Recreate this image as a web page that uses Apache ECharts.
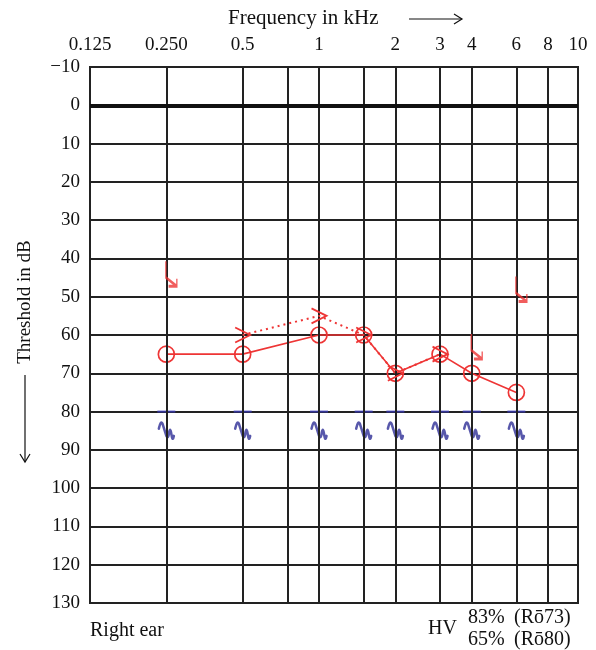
<!DOCTYPE html>
<html>
<head>
<meta charset="utf-8">
<script src="https://cdn.jsdelivr.net/npm/echarts@6/dist/echarts.min.js"></script>
<style>
  html, body { margin: 0; padding: 0; background: #fff; }
  #chart { width: 596px; height: 650px; }
</style>
</head>
<body>
<div id="chart"></div>
<script>
const freqTicks = [0.125, 0.25, 0.5, 1, 2, 3, 4, 6, 8, 10.5];
const freqTickLabels = ["0.125", "0.250", "0.5", "1", "2", "3", "4", "6", "8", "10"];
const gridFreqs = [0.25, 0.5, 0.75, 1, 1.5, 2, 3, 4, 6, 8];

// air conduction, right ear
const airFreq = [0.25, 0.5, 1, 1.5, 2, 3, 4, 6];
const airDb = [65, 65, 60, 60, 70, 65, 70, 75];

// bone conduction
const boneFreq = [0.5, 1, 1.5, 2, 3];
const boneDb = [60, 55, 60, 70, 65];

// discomfort level marks
const uclFreq = [0.25, 4, 6];
const uclDb = [44, 63, 48];

// vibration / masking marks
const vibFreq = [0.25, 0.5, 1, 1.5, 2, 3, 4, 6];
const vibDashDb = 80;
const vibWaveDb = 85;

const red = "#ee3535";
const blue = "#2e2e96";
const font = "Liberation Serif";

const chart = echarts.init(document.getElementById("chart"));

const pairs = (xs, ys) => xs.map((x, i) => [x, ys[i]]);

const option = {
  animation: false,
  grid: {
    left: 90, right: 18, top: 67, bottom: 47,
    show: true, borderColor: "#222", borderWidth: 2
  },
  xAxis: {
    type: "log",
    logBase: 2,
    min: 0.125,
    max: 10.5,
    position: "top",
    axisLine: { show: false },
    axisTick: { show: false },
    splitLine: { show: false },
    axisLabel: {
      customValues: freqTicks,
      fontFamily: font,
      fontSize: 19,
      color: "#111",
      margin: 12,
      formatter: (v) => {
        const i = freqTicks.findIndex((t) => Math.abs(t - v) < 1e-6);
        return i >= 0 ? freqTickLabels[i] : "";
      }
    }
  },
  yAxis: {
    type: "value",
    inverse: true,
    min: -10,
    max: 130,
    interval: 10,
    axisLine: { show: false },
    axisTick: { show: false },
    splitLine: { lineStyle: { color: "#222", width: 2 } },
    axisLabel: {
      fontFamily: font,
      fontSize: 19,
      color: "#111",
      margin: 10,
      formatter: (v) => (v < 0 ? "\u2212" + Math.abs(v) : String(v))
    }
  },
  graphic: [
    { type: "text", left: 228, top: 8, style: { text: "Frequency in kHz", font: "21px " + font, fill: "#111" } },
    { type: "line", shape: { x1: 409, y1: 19, x2: 462, y2: 19 }, style: { stroke: "#111", lineWidth: 1.2 } },
    { type: "polyline", shape: { points: [[454, 14], [462, 19], [454, 24]] }, style: { stroke: "#111", lineWidth: 1.2, fill: null } },
    { type: "text", x: 25, y: 302, rotation: Math.PI / 2,
      style: { text: "Threshold in dB", font: "19px " + font, fill: "#111", align: "center", verticalAlign: "middle" } },
    { type: "line", shape: { x1: 25, y1: 375, x2: 25, y2: 462 }, style: { stroke: "#111", lineWidth: 1.2 } },
    { type: "polyline", shape: { points: [[20, 454], [25, 462], [30, 454]] }, style: { stroke: "#111", lineWidth: 1.2, fill: null } },
    { type: "text", left: 90, top: 621, style: { text: "Right ear", font: "20px " + font, fill: "#111" } },
    { type: "text", left: 428, top: 619, style: { text: "HV", font: "20px " + font, fill: "#111" } },
    { type: "text", left: 468, top: 608, style: { text: "83%", font: "20px " + font, fill: "#111" } },
    { type: "text", left: 468, top: 630, style: { text: "65%", font: "20px " + font, fill: "#111" } },
    { type: "text", left: 514, top: 608, style: { text: "(R\u014d73)", font: "20px " + font, fill: "#111" } },
    { type: "text", left: 514, top: 630, style: { text: "(R\u014d80)", font: "20px " + font, fill: "#111" } }
  ],
  series: [
    {
      name: "grid",
      type: "line",
      data: [],
      silent: true,
      markLine: {
        silent: true,
        symbol: "none",
        label: { show: false },
        lineStyle: { color: "#222", width: 2, type: "solid" },
        data: gridFreqs.map((f) => ({ xAxis: f })).concat([
          { yAxis: 0, lineStyle: { color: "#111", width: 4, type: "solid" } }
        ])
      }
    },
    {
      name: "vib dash",
      type: "scatter",
      data: vibFreq.map((f) => [f, vibDashDb]),
      symbol: "rect",
      symbolSize: [18, 2],
      itemStyle: { color: "#3c3cb8" },
      z: 3
    },
    {
      name: "vib wave",
      type: "scatter",
      data: vibFreq.map((f) => [f, vibWaveDb]),
      symbol: "path://M0,6 Q2,-1 4,2 L8,12 Q10,15 11,9 Q12,5 13,9 L14,13 Q15,16 16,12",
      symbolSize: [15, 16],
      itemStyle: {
        color: "rgba(0,0,0,0)", borderColor: blue, borderWidth: 2.6,
        borderJoin: "round", borderCap: "round"
      },
      z: 3
    },
    {
      name: "air",
      type: "line",
      data: pairs(airFreq, airDb),
      symbol: "circle",
      symbolSize: 16,
      lineStyle: { color: red, width: 1.6 },
      itemStyle: { color: "rgba(0,0,0,0)", borderColor: red, borderWidth: 1.7 },
      z: 4
    },
    {
      name: "bone",
      type: "line",
      data: pairs(boneFreq, boneDb),
      symbol: "path://M0,0 L12,6 L0,12",
      symbolSize: [15, 15],
      lineStyle: { color: red, width: 2, type: [2, 4] },
      itemStyle: { color: "rgba(0,0,0,0)", borderColor: red, borderWidth: 1.8 },
      z: 5
    },
    {
      name: "ucl",
      type: "scatter",
      data: pairs(uclFreq, uclDb),
      symbol: "path://M1,0 L1,15 L9,23 M9,16 L9,23 L3,23",
      symbolSize: [11, 25],
      symbolOffset: [5, 0],
      itemStyle: { color: "rgba(0,0,0,0)", borderColor: red, borderWidth: 2 },
      z: 5
    }
  ]
};

chart.setOption(option);
</script>
</body>
</html>
